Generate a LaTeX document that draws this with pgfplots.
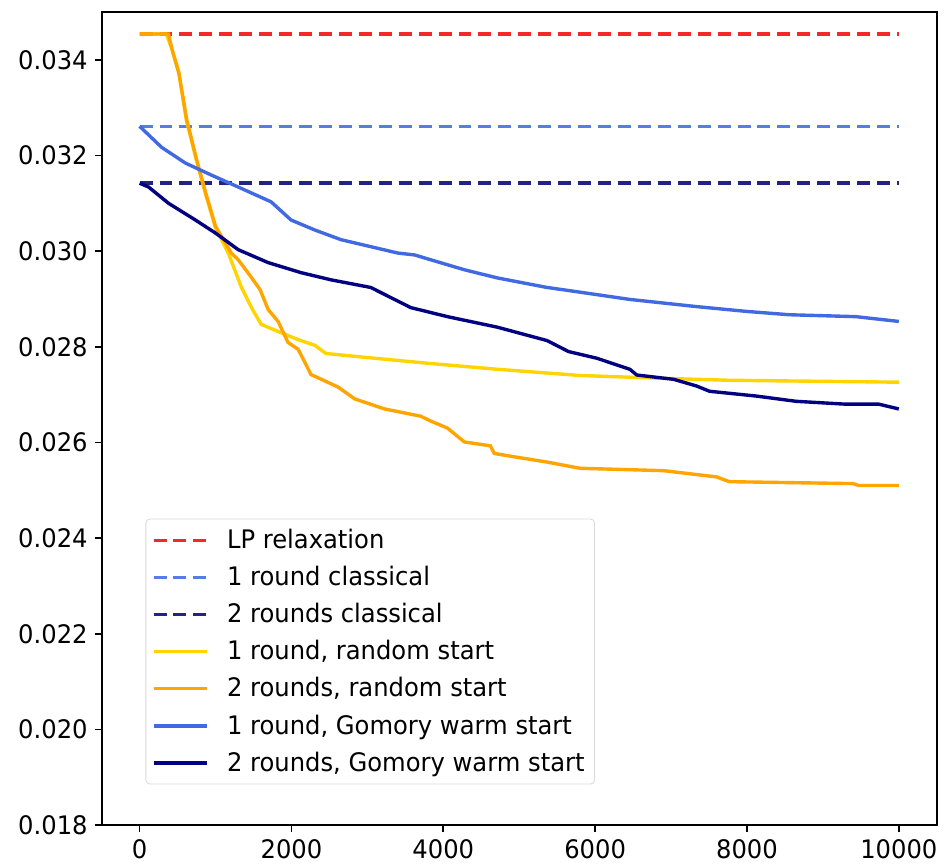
\documentclass[border=0pt]{standalone}
\usepackage{fontspec}
\setmainfont{DejaVu Sans}[FakeStretch=0.95]
\usepackage{pgfplots}
\pgfplotsset{compat=1.18}

\definecolor{lpred}{RGB}{245,40,40}
\definecolor{clsone}{RGB}{85,125,228}
\definecolor{clstwo}{RGB}{35,35,135}
\definecolor{rndone}{RGB}{255,212,0}
\definecolor{rndtwo}{RGB}{255,165,0}
\definecolor{gomone}{RGB}{65,105,225}
\definecolor{gomtwo}{RGB}{0,0,128}

\newcommand{\fs}{\fontsize{12.8}{15}\selectfont}

\begin{document}
\begin{tikzpicture}
\begin{axis}[
    scale only axis,
    width  = 419pt,
    height = 408pt,
    xmin=-500, xmax=10500,
    ymin=0.018, ymax=0.0350,
    xtick = {0,2000,4000,6000,8000,10000},
    ytick = {0.018,0.020,0.022,0.024,0.026,0.028,0.030,0.032,0.034},
    scaled y ticks = false,
    scaled x ticks = false,
    yticklabel style = {/pgf/number format/.cd, fixed, fixed zerofill, precision=3, 1000 sep={}},
    xticklabel style = {/pgf/number format/.cd, 1000 sep={}},
    /pgf/number format/assume math mode=true,
    tick label style = {font=\fs},
    tick align = outside,
    tick pos = left,
    major tick length = 3.5pt,
    axis line style = {line width=0.9pt},
    every tick/.style = {black, line width=0.8pt},
    legend style = {font=\fs, at={(0.0525,0.05)}, anchor=south west,
        draw=black!15, rounded corners=2pt, fill=white,
        row sep=3.4pt, inner xsep=3pt, inner ysep=3pt,
        /tikz/every odd column/.append style={column sep=7pt}},
    legend cell align = left,
    legend image code/.code = {\draw[#1] (0pt,0pt) -- (27pt,0pt);},
    every axis plot/.append style = {line width=1.7pt},
]

\addplot[lpred, dash pattern=on 6.5pt off 3.5pt] coordinates {(0,0.03454)(10000,0.03454)};
\addlegendentry{LP relaxation}

\addplot[clsone, dash pattern=on 6.5pt off 3.5pt] coordinates {(0,0.03261)(10000,0.03261)};
\addlegendentry{1 round classical}

\addplot[clstwo, dash pattern=on 6.5pt off 3.5pt] coordinates {(0,0.03142)(10000,0.03142)};
\addlegendentry{2 rounds classical}

\addplot[rndone] coordinates {
    (0,0.03454)(350,0.03454)(420,0.03425)(512,0.03377)(617,0.03273)(748,0.03190)
    (866,0.03121)(997,0.03050)(1168,0.02996)(1339,0.02925)(1480,0.02880)(1601,0.02847)
    (1824,0.02832)(2087,0.02815)(2310,0.02803)(2454,0.02786)(2966,0.02778)(3832,0.02765)
    (4711,0.02753)(5801,0.02740)(6903,0.02734)(7769,0.02730)(10000,0.02726)
};
\addlegendentry{1 round, random start}

\addplot[rndtwo] coordinates {
    (0,0.03454)(380,0.03454)(430,0.03420)(520,0.03370)(620,0.03275)(750,0.03192)
    (870,0.03122)(1000,0.03052)(1207,0.02996)(1299,0.02982)(1450,0.02950)(1562,0.02925)
    (1588,0.02919)(1693,0.02878)(1824,0.02853)(1955,0.02809)(2087,0.02795)(2178,0.02767)
    (2257,0.02742)(2612,0.02716)(2835,0.02691)(3228,0.02670)(3701,0.02655)(3832,0.02645)
    (4055,0.02630)(4278,0.02601)(4619,0.02593)(4672,0.02577)(4934,0.02570)(5367,0.02559)
    (5801,0.02546)(6024,0.02545)(6903,0.02541)(7598,0.02528)(7769,0.02518)(9396,0.02514)
    (9475,0.02510)(10000,0.02510)
};
\addlegendentry{2 rounds, random start}

\addplot[gomone] coordinates {
    (0,0.03261)(289,0.03217)(604,0.03184)(945,0.03159)(1299,0.03134)(1732,0.03103)
    (1995,0.03065)(2310,0.03044)(2651,0.03024)(3399,0.02996)(3622,0.02992)(3832,0.02982)
    (4278,0.02961)(4711,0.02944)(5367,0.02924)(5591,0.02919)(6024,0.02909)(6457,0.02899)
    (7336,0.02884)(7992,0.02874)(8556,0.02867)(9436,0.02863)(10000,0.02853)
};
\addlegendentry{1 round, Gomory warm start}

\addplot[gomtwo] coordinates {
    (0,0.03142)(118,0.03134)(381,0.03100)(735,0.03065)(997,0.03038)(1299,0.03003)
    (1693,0.02976)(2126,0.02955)(2520,0.02940)(3045,0.02924)(3570,0.02882)(4055,0.02863)
    (4711,0.02841)(5367,0.02813)(5650,0.02790)(6024,0.02776)(6457,0.02753)(6549,0.02741)
    (7034,0.02732)(7336,0.02718)(7507,0.02707)(8123,0.02697)(8648,0.02686)(9304,0.02680)
    (9738,0.02680)(10000,0.02670)
};
\addlegendentry{2 rounds, Gomory warm start}

\end{axis}
\path (current axis.south west) ++(-51pt,-21pt);
\path (current axis.north east) ++(2pt,6pt);
\end{tikzpicture}
\end{document}
